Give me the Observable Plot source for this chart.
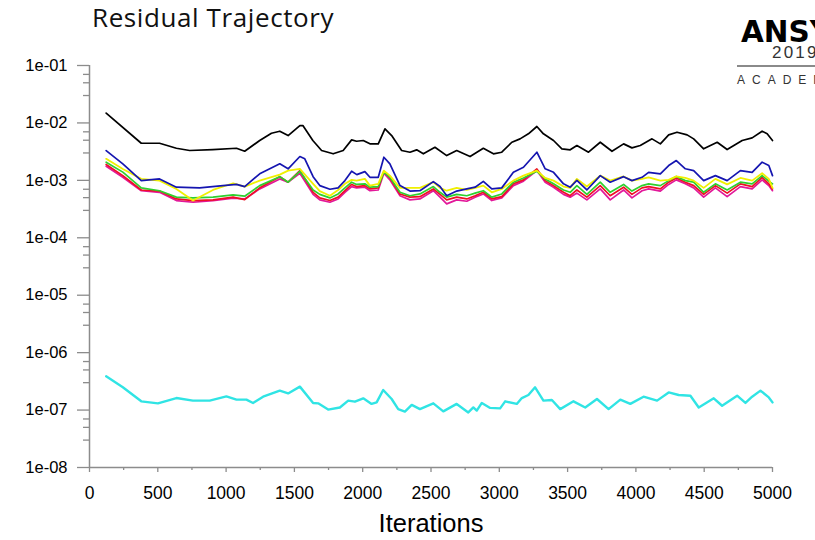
<!DOCTYPE html>
<html>
<head>
<meta charset="utf-8">
<script src="https://cdn.jsdelivr.net/npm/d3@7"></script>
<script src="https://cdn.jsdelivr.net/npm/@observablehq/plot@0.6"></script>
<style>
  html, body { margin: 0; padding: 0; background: #fff; overflow: hidden; }
  #wrap { position: relative; width: 815px; height: 540px; }
  #wrap > svg { position: absolute; left: 0; top: 0; }
</style>
</head>
<body>
<div id="wrap"></div>
<script>
// ---- data (iteration, residual) ----
const black = [[122,1.48e-2],[379,4.43e-3],[513,4.43e-3],[636,3.62e-3],[733,3.31e-3],[902,3.44e-3],[1076,3.62e-3],[1136,3.21e-3],[1246,4.94e-3],[1332,6.62e-3],[1393,7.17e-3],[1454,6.03e-3],[1540,9.0e-3],[1562,9.0e-3],[1635,4.94e-3],[1699,3.31e-3],[1784,2.90e-3],[1857,3.31e-3],[1919,5.07e-3],[1955,4.80e-3],[2004,4.94e-3],[2053,4.32e-3],[2114,4.32e-3],[2163,7.89e-3],[2212,6.03e-3],[2285,3.31e-3],[2346,3.09e-3],[2395,3.40e-3],[2444,2.90e-3],[2529,3.77e-3],[2615,2.70e-3],[2688,3.31e-3],[2786,2.60e-3],[2883,3.62e-3],[2957,2.90e-3],[3018,3.09e-3],[3092,4.61e-3],[3152,5.28e-3],[3213,6.46e-3],[3275,8.66e-3],[3323,6.46e-3],[3397,4.94e-3],[3458,3.54e-3],[3519,3.40e-3],[3568,4.04e-3],[3653,3.09e-3],[3739,4.61e-3],[3825,3.21e-3],[3910,4.32e-3],[3971,3.68e-3],[4032,4.04e-3],[4118,5.28e-3],[4179,4.32e-3],[4240,6.20e-3],[4301,6.89e-3],[4375,6.20e-3],[4423,5.28e-3],[4496,3.54e-3],[4595,4.61e-3],[4668,3.44e-3],[4778,4.94e-3],[4851,5.50e-3],[4924,7.17e-3],[4961,6.46e-3],[5000,4.94e-3]];

const blue = [[122,3.30e-3],[244,1.94e-3],[379,9.9e-4],[513,1.06e-3],[636,7.6e-4],[806,7.4e-4],[977,8.1e-4],[1076,8.5e-4],[1136,7.8e-4],[1246,1.30e-3],[1393,1.94e-3],[1454,1.59e-3],[1540,2.60e-3],[1576,2.37e-3],[1637,1.16e-3],[1686,8.1e-4],[1760,7.0e-4],[1820,7.4e-4],[1870,9.9e-4],[1919,1.44e-3],[1957,1.26e-3],[2016,1.42e-3],[2053,1.13e-3],[2114,1.13e-3],[2155,2.53e-3],[2199,1.94e-3],[2273,8.1e-4],[2346,6.5e-4],[2419,6.6e-4],[2517,9.5e-4],[2566,7.8e-4],[2615,5.4e-4],[2688,6.5e-4],[2762,7.1e-4],[2823,7.6e-4],[2883,9.6e-4],[2945,7.1e-4],[3018,7.4e-4],[3103,1.38e-3],[3177,1.69e-3],[3275,3.09e-3],[3336,1.59e-3],[3397,1.38e-3],[3470,8.7e-4],[3519,7.6e-4],[3568,1.0e-3],[3641,6.8e-4],[3739,1.21e-3],[3812,9.3e-4],[3910,1.16e-3],[3971,9.9e-4],[4045,1.13e-3],[4093,1.38e-3],[4179,1.30e-3],[4240,1.81e-3],[4296,2.21e-3],[4362,1.59e-3],[4423,1.48e-3],[4496,9.9e-4],[4582,1.21e-3],[4668,9.9e-4],[4765,1.48e-3],[4851,1.38e-3],[4924,2.07e-3],[4973,1.81e-3],[5000,1.21e-3]];

const yellow = [[122,2.37e-3],[244,1.58e-3],[379,1.06e-3],[513,9.9e-4],[636,7.1e-4],[758,4.45e-4],[904,6.8e-4],[1051,8.9e-4],[1136,7.8e-4],[1246,9.9e-4],[1393,1.26e-3],[1454,1.48e-3],[1540,1.58e-3],[1637,8.7e-4],[1686,6.5e-4],[1760,5.4e-4],[1820,6.8e-4],[1870,8.7e-4],[1919,1.02e-3],[1955,9.9e-4],[2016,1.06e-3],[2053,8.1e-4],[2114,8.7e-4],[2155,1.48e-3],[2199,1.21e-3],[2273,7.4e-4],[2346,7.4e-4],[2419,7.4e-4],[2517,9.3e-4],[2566,7.4e-4],[2615,6.6e-4],[2688,7.4e-4],[2762,6.8e-4],[2823,7.4e-4],[2883,8.1e-4],[2945,6.2e-4],[3018,7.1e-4],[3103,9.9e-4],[3177,1.21e-3],[3275,1.48e-3],[3336,1.10e-3],[3397,9.9e-4],[3470,7.8e-4],[3519,7.4e-4],[3568,1.06e-3],[3641,7.8e-4],[3739,1.21e-3],[3812,9.9e-4],[3910,1.17e-3],[3971,9.9e-4],[4045,1.06e-3],[4093,1.13e-3],[4179,9.9e-4],[4240,1.02e-3],[4296,1.17e-3],[4362,1.10e-3],[4423,9.9e-4],[4496,7.4e-4],[4582,1.06e-3],[4668,8.5e-4],[4765,1.10e-3],[4851,9.9e-4],[4924,1.33e-3],[4973,1.06e-3],[5000,7.4e-4]];

const green = [[122,2.07e-3],[244,1.39e-3],[379,7.4e-4],[513,6.6e-4],[636,5.1e-4],[758,4.95e-4],[904,5.1e-4],[1051,5.6e-4],[1136,5.3e-4],[1246,8.1e-4],[1393,1.16e-3],[1454,9.3e-4],[1540,1.44e-3],[1637,6.8e-4],[1686,5.7e-4],[1760,4.95e-4],[1820,5.8e-4],[1870,7.4e-4],[1919,9.3e-4],[1955,8.5e-4],[2016,8.7e-4],[2053,7.6e-4],[2114,7.8e-4],[2155,1.39e-3],[2199,1.13e-3],[2273,6.2e-4],[2346,5.4e-4],[2419,5.8e-4],[2517,7.8e-4],[2566,6.2e-4],[2615,5.1e-4],[2688,5.7e-4],[2762,5.4e-4],[2823,6.0e-4],[2883,6.6e-4],[2945,5.1e-4],[3018,5.8e-4],[3103,9.3e-4],[3177,1.10e-3],[3275,1.44e-3],[3336,1.06e-3],[3397,8.7e-4],[3470,6.8e-4],[3519,6.2e-4],[3568,8.1e-4],[3641,5.7e-4],[3739,9.3e-4],[3812,6.2e-4],[3910,8.5e-4],[3971,6.5e-4],[4045,8.1e-4],[4093,8.7e-4],[4179,8.1e-4],[4240,9.9e-4],[4296,1.17e-3],[4362,9.9e-4],[4423,9.3e-4],[4496,6.2e-4],[4582,8.7e-4],[4668,6.8e-4],[4765,9.3e-4],[4851,8.7e-4],[4924,1.21e-3],[4973,9.7e-4],[5000,8.7e-4]];

const red = [[122,1.89e-3],[244,1.21e-3],[379,6.8e-4],[513,6.5e-4],[636,4.75e-4],[758,4.45e-4],[904,4.57e-4],[1051,5.1e-4],[1136,4.63e-4],[1246,7.4e-4],[1393,1.16e-3],[1454,9.3e-4],[1540,1.48e-3],[1637,6.2e-4],[1686,4.95e-4],[1760,4.45e-4],[1820,5.1e-4],[1870,6.6e-4],[1919,8.5e-4],[1955,7.8e-4],[2016,8.1e-4],[2053,7.1e-4],[2114,7.4e-4],[2155,1.44e-3],[2199,1.10e-3],[2273,5.8e-4],[2346,5.1e-4],[2419,5.2e-4],[2517,7.1e-4],[2566,5.7e-4],[2615,4.57e-4],[2688,5.1e-4],[2762,4.75e-4],[2823,5.4e-4],[2883,6.2e-4],[2945,4.75e-4],[3018,5.2e-4],[3103,8.7e-4],[3177,1.02e-3],[3275,1.58e-3],[3336,9.9e-4],[3397,8.1e-4],[3470,6.2e-4],[3519,5.4e-4],[3568,6.8e-4],[3641,5.1e-4],[3739,8.1e-4],[3812,5.4e-4],[3910,7.6e-4],[3971,5.7e-4],[4045,7.4e-4],[4093,7.8e-4],[4179,7.1e-4],[4240,9.3e-4],[4296,1.10e-3],[4362,9.3e-4],[4423,8.1e-4],[4496,5.7e-4],[4582,8.1e-4],[4668,6.0e-4],[4765,8.7e-4],[4851,7.8e-4],[4924,1.13e-3],[4973,8.7e-4],[5000,7.1e-4]];

const magenta = [[122,1.76e-3],[244,1.13e-3],[379,6.6e-4],[513,6.2e-4],[636,4.45e-4],[758,4.16e-4],[904,4.45e-4],[1051,4.88e-4],[1136,4.75e-4],[1246,7.1e-4],[1393,1.06e-3],[1454,9.3e-4],[1540,1.33e-3],[1637,5.7e-4],[1686,4.57e-4],[1760,4.16e-4],[1820,4.75e-4],[1870,6.2e-4],[1919,7.8e-4],[1955,7.4e-4],[2016,7.6e-4],[2053,6.6e-4],[2114,6.8e-4],[2155,1.33e-3],[2199,1.02e-3],[2273,5.4e-4],[2346,4.57e-4],[2419,4.75e-4],[2517,6.6e-4],[2566,5.1e-4],[2615,3.89e-4],[2688,4.57e-4],[2762,4.33e-4],[2823,5.1e-4],[2883,5.8e-4],[2945,4.45e-4],[3018,4.95e-4],[3103,8.1e-4],[3177,9.7e-4],[3275,1.48e-3],[3336,9.3e-4],[3397,7.6e-4],[3470,5.7e-4],[3519,5.1e-4],[3568,6.0e-4],[3641,4.57e-4],[3739,7.1e-4],[3812,4.57e-4],[3910,6.8e-4],[3971,4.95e-4],[4045,6.6e-4],[4093,7.1e-4],[4179,6.5e-4],[4240,8.5e-4],[4296,1.02e-3],[4362,8.7e-4],[4423,7.4e-4],[4496,5.1e-4],[4582,7.4e-4],[4668,5.2e-4],[4765,7.8e-4],[4851,7.1e-4],[4924,1.02e-3],[4973,8.1e-4],[5000,6.6e-4]];

const cyan = [[122,3.87e-7],[244,2.49e-7],[379,1.42e-7],[501,1.31e-7],[636,1.62e-7],[757,1.46e-7],[880,1.46e-7],[1002,1.73e-7],[1076,1.52e-7],[1149,1.52e-7],[1197,1.33e-7],[1271,1.71e-7],[1393,2.18e-7],[1454,1.95e-7],[1540,2.56e-7],[1637,1.33e-7],[1674,1.31e-7],[1747,1.02e-7],[1833,1.11e-7],[1894,1.46e-7],[1943,1.40e-7],[2004,1.60e-7],[2065,1.28e-7],[2102,1.36e-7],[2150,2.24e-7],[2212,1.56e-7],[2260,1.04e-7],[2309,0.94e-7],[2359,1.23e-7],[2419,1.04e-7],[2517,1.31e-7],[2590,0.95e-7],[2688,1.28e-7],[2773,0.91e-7],[2810,1.11e-7],[2835,0.98e-7],[2872,1.33e-7],[2933,1.09e-7],[3006,1.07e-7],[3043,1.42e-7],[3128,1.28e-7],[3165,1.62e-7],[3213,1.83e-7],[3262,2.49e-7],[3323,1.46e-7],[3385,1.50e-7],[3446,1.04e-7],[3543,1.42e-7],[3629,1.11e-7],[3715,1.56e-7],[3800,1.04e-7],[3886,1.52e-7],[3959,1.28e-7],[4056,1.71e-7],[4155,1.46e-7],[4240,2.03e-7],[4313,1.83e-7],[4399,1.78e-7],[4460,1.11e-7],[4570,1.60e-7],[4631,1.19e-7],[4741,1.78e-7],[4802,1.33e-7],[4851,1.71e-7],[4912,2.18e-7],[4973,1.66e-7],[5000,1.36e-7]];

// ---- tick values ----
const yMajorTicks = [1e-8, 1e-7, 1e-6, 1e-5, 1e-4, 1e-3, 1e-2, 1e-1];
const yMinorTicks = [];
for (let e = -8; e <= -2; e++) for (const m of [3, 5, 7]) yMinorTicks.push(m * Math.pow(10, e));
const xMajorTicks = [0, 500, 1000, 1500, 2000, 2500, 3000, 3500, 4000, 4500, 5000];
const xMinorTicks = [250, 750, 1250, 1750, 2250, 2750, 3250, 3750, 4250, 4750];

const titleText = "Residual Trajectory";
const xLabelText = "Iterations";

const fmtExp = d => {
  const e = Math.round(Math.log10(d));
  const s = Math.abs(e).toString().padStart(2, "0");
  return "1e" + (e < 0 ? "-" : "+") + s;
};

const series = [
  {data: cyan, color: "#30e4e4", w: 2.4},
  {data: magenta, color: "#e2189a", w: 1.7},
  {data: red, color: "#ee1024", w: 1.7},
  {data: green, color: "#2ed02e", w: 1.7},
  {data: yellow, color: "#f0f000", w: 1.8},
  {data: blue, color: "#1515b0", w: 1.7},
  {data: black, color: "#000000", w: 1.7}
];

const axisGray = "#8c8c8c";
const labelFont = "'Liberation Sans', Arial, sans-serif";

const chart = Plot.plot({
  width: 815,
  height: 540,
  marginTop: 65,
  marginBottom: 73,
  marginLeft: 89,
  marginRight: 43,
  style: {fontFamily: labelFont, background: "transparent", color: "black"},
  x: {domain: [0, 5000]},
  y: {type: "log", domain: [1e-8, 1e-1]},
  marks: [
    Plot.axisY({ticks: yMinorTicks, tickSize: 6, tickFormat: () => "", stroke: axisGray, strokeWidth: 1.3, label: null}),
    Plot.axisY({ticks: yMajorTicks, tickSize: 12, tickPadding: 10, tickFormat: fmtExp, fontSize: 16.5, stroke: axisGray, strokeWidth: 1.3, fill: "black", label: null}),
    Plot.axisX({ticks: xMinorTicks, tickSize: 3, tickFormat: () => "", stroke: axisGray, strokeWidth: 1.3, label: null}),
    Plot.axisX({ticks: xMajorTicks, tickSize: 5, tickPadding: 14, tickFormat: d => String(d), fontSize: 17.5, stroke: axisGray, strokeWidth: 1.3, fill: "black", label: null}),
    Plot.ruleX([0], {y1: 1e-8, y2: 1e-1, stroke: axisGray, strokeWidth: 1.5}),
    Plot.ruleY([1e-8], {x1: 0, x2: 5000, stroke: axisGray, strokeWidth: 1.5}),
    ...series.map(s => Plot.line(s.data, {x: d => d[0], y: d => d[1], stroke: s.color, strokeWidth: s.w})),
    Plot.text([xLabelText], {text: d => d, frameAnchor: "bottom", dy: 64, fontSize: 25.5, fill: "black"})
  ]
});

const wrap = d3.select("#wrap");
wrap.node().appendChild(chart);

// overlay for title and logo text
const ov = wrap.append("svg")
  .attr("width", 815).attr("height", 540)
  .style("pointer-events", "none");

ov.append("text")
  .attr("x", 92).attr("y", 27)
  .attr("font-family", "'Open Sans', 'Noto Sans', sans-serif")
  .attr("font-size", 26)
  .attr("letter-spacing", 0.6)
  .attr("fill", "#111")
  .text(titleText);

ov.append("text")
  .attr("x", 741).attr("y", 42)
  .attr("font-family", "'DejaVu Sans', sans-serif")
  .attr("font-weight", "bold")
  .attr("font-size", 29.5)
  .attr("fill", "#000")
  .text("ANSYS");

ov.append("text")
  .attr("x", 772).attr("y", 58)
  .attr("font-family", "'Liberation Sans', Arial, sans-serif")
  .attr("font-size", 17)
  .attr("letter-spacing", 2.2)
  .attr("fill", "#333")
  .text("2019");

ov.append("line")
  .attr("x1", 737).attr("x2", 815).attr("y1", 66).attr("y2", 66)
  .attr("stroke", "#8a8a8a").attr("stroke-width", 2);

ov.append("text")
  .attr("x", 737).attr("y", 84)
  .attr("font-family", "'Liberation Sans', Arial, sans-serif")
  .attr("font-size", 12)
  .attr("letter-spacing", 7)
  .attr("fill", "#333")
  .text("ACADEMIC");
</script>
</body>
</html>
